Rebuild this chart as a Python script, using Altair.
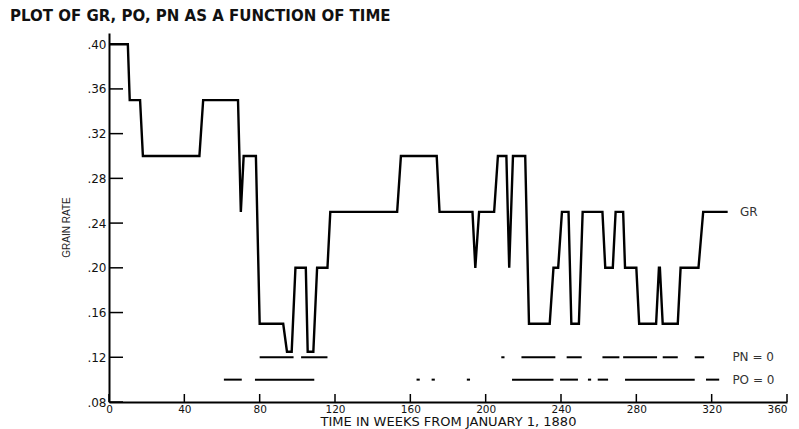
import altair as alt
import pandas as pd

# ---- data ----
gr_week = [0, 10, 11, 16.5, 18, 48, 50, 68.5, 70, 71.5, 78, 80, 92.5, 94.5, 97, 99,
           104.5, 105.5, 108.5, 110.5, 116, 117.5, 153, 155, 174, 175.5, 193, 194.5,
           196.5, 204.5, 206.5, 211, 212.5, 214.5, 221, 223, 234, 236, 238.5, 240.5,
           244, 245.5, 249.5, 251.5, 262, 263.5, 267.5, 269, 273, 274, 280, 281.5,
           290.5, 292, 292.5, 294, 302, 303.5, 313, 315.5, 328.5]
gr_value = [0.40, 0.40, 0.35, 0.35, 0.30, 0.30, 0.35, 0.35, 0.25, 0.30, 0.30, 0.15,
            0.15, 0.125, 0.125, 0.20, 0.20, 0.125, 0.125, 0.20, 0.20, 0.25, 0.25, 0.30,
            0.30, 0.25, 0.25, 0.20, 0.25, 0.25, 0.30, 0.30, 0.20, 0.30, 0.30, 0.15,
            0.15, 0.20, 0.20, 0.25, 0.25, 0.15, 0.15, 0.25, 0.25, 0.20, 0.20, 0.25,
            0.25, 0.20, 0.20, 0.15, 0.15, 0.20, 0.20, 0.15, 0.15, 0.20, 0.20, 0.25, 0.25]

pn_start = [80, 102, 208.3, 219, 243, 262, 273, 294, 311]
pn_end = [98, 116, 210, 237, 251, 271, 291, 302, 316]
pn_level = 0.12

po_start = [61, 77.5, 163.3, 171.3, 190, 214, 239.5, 254.3, 259.5, 274, 317]
po_end = [70.5, 109, 165, 173, 191.7, 236, 249, 256, 265, 311, 324]
po_level = 0.10

label_text = ["GR", "PN = 0", "PO = 0"]
label_week = [335, 331, 331]
label_value = [0.25, 0.12, 0.10]

x_ticks = [0, 40, 80, 120, 160, 200, 240, 280, 320, 360]
y_ticks = [0.08, 0.12, 0.16, 0.20, 0.24, 0.28, 0.32, 0.36, 0.40]

W, H = 678, 369
FONT = "DejaVu Sans"

gr_df = pd.DataFrame({"week": gr_week, "value": gr_value, "order": list(range(len(gr_week)))})
seg_df = pd.DataFrame({
    "start": pn_start + po_start,
    "end": pn_end + po_end,
    "level": [pn_level] * len(pn_start) + [po_level] * len(po_start),
})
lab_df = pd.DataFrame({"text": label_text, "week": label_week, "value": label_value})
xt_df = pd.DataFrame({"t": x_ticks})
yt_df = pd.DataFrame({"t": y_ticks})

xscale = alt.Scale(domain=[0, 360], nice=False, zero=False)
yscale = alt.Scale(domain=[0.08, 0.41], nice=False, zero=False)

xaxis = alt.Axis(values=x_ticks, ticks=False, grid=False, domainColor="black",
                 domainWidth=2, labelFont=FONT, labelFontSize=10.5, labelColor="#111",
                 labelPadding=2, labelFlush=False,
                 labelAlign={"condition": {"test": "datum.value == 360", "value": "right"},
                             "value": "center"},
                 title="TIME IN WEEKS FROM JANUARY 1, 1880",
                 titleFont=FONT, titleFontSize=13, titleFontWeight="normal",
                 titleColor="#111", titlePadding=1)
yaxis = alt.Axis(values=y_ticks, ticks=False, grid=False, domainColor="black",
                 domainWidth=2, labelFont=FONT, labelFontSize=12, labelColor="#111",
                 labelPadding=3, labelFlush=False,
                 labelExpr="replace(format(datum.value, '.2f'), '0.', '.')",
                 title="GRAIN RATE", titleFont="Liberation Sans",
                 titleFontSize=10, titleFontWeight="normal", titleColor="#222",
                 titleX=-38, titleY=194, titleAngle=270, titleAlign="center",
                 titleBaseline="bottom")

line = alt.Chart(gr_df).mark_line(color="black", strokeWidth=2.4).encode(
    x=alt.X("week:Q", scale=xscale, axis=xaxis),
    y=alt.Y("value:Q", scale=yscale, axis=yaxis),
    order="order:Q",
)

segs = alt.Chart(seg_df).mark_rule(color="black", strokeWidth=2).encode(
    x=alt.X("start:Q", scale=xscale),
    x2="end:Q",
    y=alt.Y("level:Q", scale=yscale),
)

ytick_marks = alt.Chart(yt_df).mark_rule(color="black", strokeWidth=1.5).encode(
    y=alt.Y("t:Q", scale=yscale),
    x=alt.value(0),
    x2=alt.value(14),
)

xtick_marks = alt.Chart(xt_df).mark_rule(color="black", strokeWidth=1.5).encode(
    x=alt.X("t:Q", scale=xscale),
    y=alt.value(H),
    y2=alt.value(H - 8),
)

labels = alt.Chart(lab_df).mark_text(align="left", baseline="middle", font=FONT,
                                     fontSize=12, color="#333").encode(
    x=alt.X("week:Q", scale=xscale),
    y=alt.Y("value:Q", scale=yscale),
    text="text:N",
)

chart = alt.layer(line, segs, ytick_marks, xtick_marks, labels).properties(
    width=W,
    height=H,
    background="white",
    autosize=alt.AutoSizeParams(type="none"),
    padding={"left": 101, "top": 25, "right": 4, "bottom": 27},
    title=alt.Title("PLOT OF GR, PO, PN AS A FUNCTION OF TIME", anchor="start",
                    frame="group", dx=-99, offset=9, font=FONT, fontSize=15,
                    fontWeight="bold", color="#111"),
).configure_view(stroke=None)

chart.save("out.html", embed_options={"renderer": "svg", "actions": False})
